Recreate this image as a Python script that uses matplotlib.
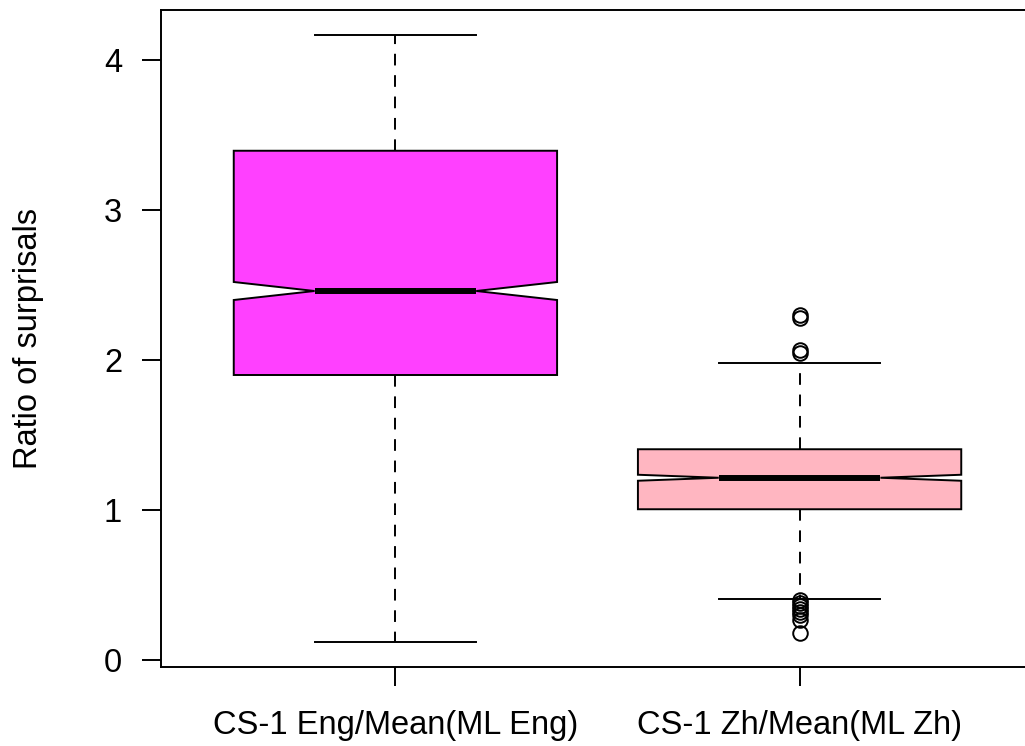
import matplotlib
matplotlib.use("Agg")
import matplotlib.pyplot as plt

plt.rcParams['font.family'] = ['Liberation Sans', 'DejaVu Sans']

labels = ["CS-1 Eng/Mean(ML Eng)", "CS-1 Zh/Mean(ML Zh)"]
q1 = [1.90, 1.005]
q3 = [3.395, 1.405]
med = [2.46, 1.215]
ci_lo = [2.40, 1.195]
ci_hi = [2.52, 1.235]
whis_lo = [0.12, 0.405]
whis_hi = [4.17, 1.98]
fliers = [[], [2.30, 2.28, 2.07, 2.05, 0.40, 0.38, 0.36, 0.34, 0.32, 0.30, 0.27, 0.18]]
colors = ["#FF40FF", "#FFB6C1"]

stats = []
for i in range(2):
    stats.append(dict(label=labels[i], q1=q1[i], q3=q3[i], med=med[i],
                      cilo=ci_lo[i], cihi=ci_hi[i], whislo=whis_lo[i],
                      whishi=whis_hi[i], fliers=fliers[i]))

fig = plt.figure(figsize=(10.25, 7.46), dpi=100)
W, H = 1025, 746
left, right, top, bottom = 161, 1034, 10, 667
ax = fig.add_axes([left / W, 1 - bottom / H, (right - left) / W, (bottom - top) / H])

bp = ax.bxp(stats, positions=[1, 2], widths=0.8, shownotches=True,
            patch_artist=True,
            boxprops=dict(edgecolor='black', linewidth=1.4),
            whiskerprops=dict(color='black', linewidth=1.4, linestyle=(0, (6, 5))),
            capprops=dict(color='black', linewidth=1.4),
            medianprops=dict(color='black', linewidth=4.3),
            flierprops=dict(marker='o', markerfacecolor='none', markeredgecolor='black',
                            markersize=10.5, markeredgewidth=1.4))
for patch, c in zip(bp['boxes'], colors):
    patch.set_facecolor(c)

ax.set_xlim(0.42, 2.58)
ax.set_ylim((660 - 667) / 150, (660 - 10) / 150)
ax.set_yticks([0, 1, 2, 3, 4])
ax.set_yticklabels(["0", "1", "2", "3", "4"])
ax.set_xticks([1, 2])
ax.set_xticklabels(labels)
ax.tick_params(axis='both', labelsize=23.5, length=14, width=1.4, direction='out')
ax.tick_params(axis='y', pad=14)
ax.tick_params(axis='x', pad=17)
for s in ax.spines.values():
    s.set_linewidth(1.4)
ax.set_ylabel("Ratio of surprisals", fontsize=23.5)
ax.yaxis.set_label_coords(-117 / (right - left), 0.5)

fig.savefig("out.png", dpi=100)
